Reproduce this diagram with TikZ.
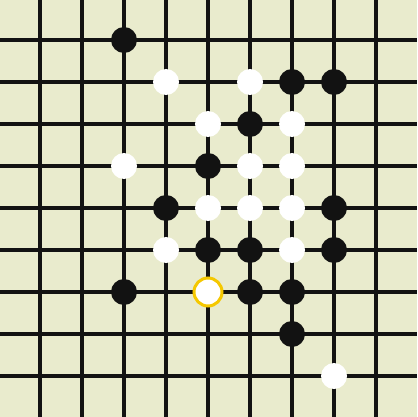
\documentclass[tikz,border=0pt]{standalone}
\begin{document}
\begin{tikzpicture}[x=1pt,y=-1pt,
  gridline/.style={line width=4pt,color=black!93},
  blackstone/.style={fill=black!93},
  whitestone/.style={fill=white},
  laststone/.style={fill=white,draw={rgb,255:red,245;green,200;blue,0},line width=3pt}]
\definecolor{boardbg}{RGB}{233,235,205}
\fill[boardbg] (0,0) rectangle (417,417);
\useasboundingbox (0,0) rectangle (417,417);
\begin{scope}
\clip (0,0) rectangle (417,417);
\foreach \k in {0,...,8} {
  \draw[gridline] ({40+42*\k},0) -- ({40+42*\k},417);
  \draw[gridline] (0,{40+42*\k}) -- (417,{40+42*\k});
}
\foreach \p in {(124,40),(292,82),(334,82),(250,124),(208,166),(166,208),(334,208),(208,250),(250,250),(334,250),(124,292),(250,292),(292,292),(292,334)}
  \fill[blackstone] \p circle (13);
\foreach \p in {(166,82),(250,82),(208,124),(292,124),(124,166),(250,166),(292,166),(208,208),(250,208),(292,208),(166,250),(292,250),(334,376)}
  \fill[whitestone] \p circle (13);
\draw[laststone] (208,292) circle (14);
\end{scope}
\end{tikzpicture}
\end{document}
